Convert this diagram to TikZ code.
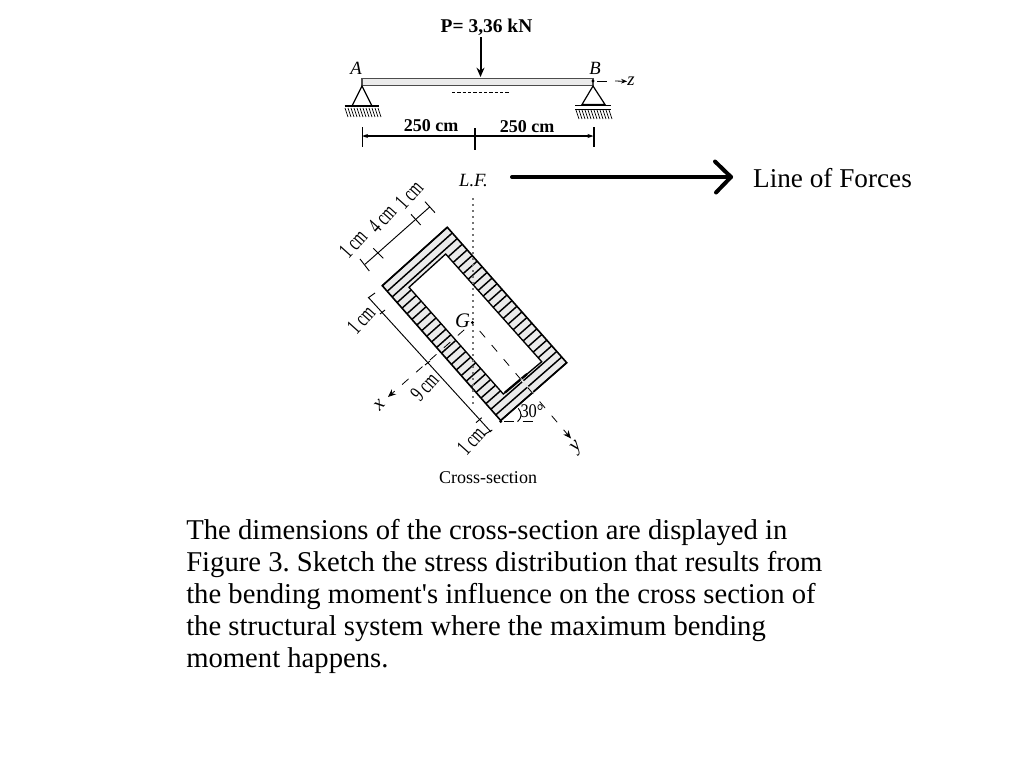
\documentclass[tikz,border=0pt]{standalone}
\usepackage{fontspec}
\setmainfont{Liberation Serif}
\usetikzlibrary{calc,arrows.meta}

\tikzset{
    figlabel/.style={inner sep=0pt, font=\fontsize{13.5pt}{15pt}\selectfont},
    boldlabel/.style={inner sep=0pt, font=\fontsize{13.5pt}{15pt}\selectfont\bfseries},
    mathlabel/.style={inner sep=0pt, font=\fontsize{14pt}{15pt}\selectfont\itshape},
    dimlabel/.style={inner sep=0pt, rotate=48, xscale=.66, font=\fontsize{17pt}{18pt}\selectfont},
    dimline/.style={line width=.7pt},
    axisline/.style={line width=.6pt, dash pattern=on 6.4pt off 7.5pt, dash phase=5.6pt},
    ground/.style={line width=.5pt},
}

\begin{document}
\begin{tikzpicture}[x=.75pt, y=-.75pt]
\useasboundingbox (0,0) rectangle (1010,764);

% beam
\coordinate (A) at (362,86);
\coordinate (B) at (593,86);
\draw[line width=.8pt, draw=black!70, fill=black!8] (362,78.5) rectangle (593,85.5);
\node[boldlabel, font=\fontsize{14.6pt}{16pt}\selectfont\bfseries] (load) at (486.5,27) {P= 3,36 kN};
\coordinate (loadtop) at (480.5,37);
\coordinate (loadtip) at (480.5,77);
\draw[line width=1.5pt, -{Stealth[length=7pt,width=6pt]}] (loadtop) -- (loadtip);
\draw[line width=.4pt, dash pattern=on 2.4pt off 1.6pt] (452,92) -- (509,92);
\node[mathlabel] (nameA) at (356,68) {A};
\node[mathlabel] (nameB) at (595,68) {B};

% supports
\draw[line width=.9pt] (A) -- (352,106) -- (372,106) -- cycle;
\draw[line width=1pt] (344.5,106) -- (379,106);
\foreach \i in {0,...,11} \draw[ground] (345+\i*3,108) -- (348+\i*3,117);
\draw[line width=.9pt] (B) -- (582,104.5) -- (605,104.5) -- cycle;
\draw[line width=1pt] (575,105.5) -- (611,105.5);
\draw[line width=.6pt] (575,109) -- (611,109);
\foreach \i in {0,...,11} \draw[ground] (576+\i*3,110) -- (579+\i*3,119);

% z axis
\fill (593,81) circle (1.2pt);
\coordinate (zstart) at (615,81);
\node[mathlabel] (zname) at (631,81.5) {z};
\draw[line width=.6pt] (597,81) -- (607,81);
\draw[line width=.6pt, -{Stealth[length=4.5pt,width=3.5pt]}] (zstart) -- (zname);

% span
\draw[line width=.8pt, {Stealth[length=4.5pt,width=3pt]}-{Stealth[length=4.5pt,width=3pt]}] (362,136) -- (593.5,136);
\draw[line width=.8pt] (362.5,127) -- (362.5,147) (475,128) -- (475,150) (594,127) -- (594,147);
\node[boldlabel] (spanl) at (431,125.5) {250 cm};
\node[boldlabel] (spanr) at (527,126.5) {250 cm};

% line of forces
\node[mathlabel] (lf) at (473.5,181) {L.F.};
\node[inner sep=0pt, font=\fontsize{20.4pt}{22pt}\selectfont] (forces) at (832.5,178) {Line of Forces};
\coordinate (lfstart) at (512,177);
\coordinate (lfend) at (731,177);
\draw[line width=3pt, line cap=round] (lfstart) -- (lfend);
\draw[line width=3pt, line cap=round, line join=round] (715,161.5) -- (lfend) -- (716,192.5);

% cross-section
\coordinate (T) at (447.3,227.3);
\coordinate (L) at (382.3,285.7);
\coordinate (R) at (566.7,362.7);
\coordinate (D) at (500.7,420.5);
\fill[black!8] (T) -- (R) -- (D) -- (L) -- cycle;
\foreach \t in {0,1,...,24}
    \draw[line width=1.1pt] ($(T)!\t/24!(R)$) -- ($(L)!\t/24!(D)$);
\draw[line width=1pt, fill=white] (445.7,254) -- (541.7,361.7) -- (503.3,394) -- (409,287.3) -- cycle;
\draw[line width=1.7pt] (505,392.5) -- (527,374);
\draw[line width=1.2pt] (T) -- (R) -- (D) -- (L) -- cycle;
\draw[line width=1.1pt, dash pattern=on 1.8pt off 2.7pt, black!55] (473,198) -- (473,405);

% axes
\coordinate (G) at (472.5,322.5);
\fill (G) circle (1.3pt);
\node[mathlabel, font=\fontsize{15.5pt}{16pt}\selectfont\itshape] (nameG) at (462.5,320.5) {G};
\coordinate (xtip) at (388,397);
\coordinate (ytip) at (571,438.5);
\draw[line width=1.2pt, black!10] (441,350) -- (453,340) (520,378) -- (533,393);
\draw[axisline, -{Stealth[length=6pt,width=5pt]}] (G) -- (xtip);
\draw[axisline, -{Stealth[length=6pt,width=5pt]}] (G) -- (ytip);
\node[mathlabel, rotate=48, font=\fontsize{15pt}{16pt}\selectfont\itshape] (xname) at (379.5,405) {x};
\node[mathlabel, rotate=48, font=\fontsize{15pt}{16pt}\selectfont\itshape] (yname) at (577,448) {y};

% dimensions
\draw[dimline] (365,264.3) -- (430,206.7);
\draw[dimline] (360,259) -- (369.3,271) (373.3,248.3) -- (383.3,258.3) (411,214.3) -- (420.7,225) (425,201.7) -- (435,212.7);
\node[dimlabel] (dimleft) at (353,244) {1 cm};
\node[dimlabel] (dimmid) at (382,219) {4 cm};
\node[dimlabel] (dimright) at (409,195) {1 cm};
\draw[dimline] (368.3,297.3) -- (491,432);
\draw[dimline] (368,298) -- (375,293) (380,314) -- (385,310) (425,365) -- (430,361) (476,422.7) -- (481.7,417.7) (483.3,435) -- (492.3,430);
\node[dimlabel] (dimtop) at (361,320) {1 cm};
\node[dimlabel] (dimweb) at (424.5,387) {9 cm};
\node[dimlabel] (dimbot) at (471,441) {1 cm};

% angle
\fill (D) ++(0,1) circle (1.2pt);
\draw[line width=.7pt] (504,421.7) -- (514,421.7) (522.7,421.7) -- (532.7,421.7);
\draw[line width=.7pt] (518.3,408.3) .. controls (522,413) and (522,418) .. (517.5,421.7);
\node[inner sep=0pt, xscale=.85, font=\fontsize{14.5pt}{15pt}\selectfont] (angle) at (532,411.5) {30°};

\node[figlabel] (title) at (488,478) {Cross-section};

% text
\node[anchor=north west, inner sep=0pt, align=left, font=\fontsize{21.5pt}{24pt}\selectfont\frenchspacing] (body) at (186,519) {The dimensions of the cross-section are displayed in\\
Figure 3. Sketch the stress distribution that results from\\
the bending moment\textquotesingle s influence on the cross section of\\
the structural system where the maximum bending\\
moment happens.};
\end{tikzpicture}
\end{document}
